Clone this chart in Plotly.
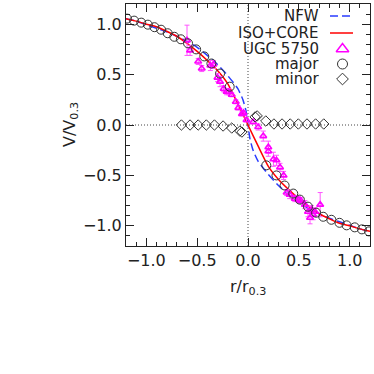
import plotly.graph_objects as go

# ---------------- data ----------------
# ISO+CORE model curve
iso_r = [-1.2, -1.1, -1.0, -0.9, -0.8, -0.7, -0.6, -0.5, -0.4, -0.3, -0.2, -0.1, 0.0,
         0.1, 0.2, 0.3, 0.4, 0.5, 0.6, 0.7, 0.8, 0.9, 1.0, 1.1, 1.2]
iso_v = [1.055, 1.03, 1.0, 0.975, 0.93, 0.88, 0.81, 0.73, 0.64, 0.54, 0.41, 0.21, 0.0,
         -0.21, -0.41, -0.54, -0.64, -0.73, -0.81, -0.88, -0.93, -0.975, -1.0, -1.03, -1.055]

# NFW model curve
nfw_r = [-1.2, -1.1, -1.0, -0.9, -0.8, -0.7, -0.6, -0.5, -0.4, -0.3, -0.2, -0.1, -0.05, -0.02, 0.0,
         0.02, 0.05, 0.1, 0.2, 0.3, 0.4, 0.5, 0.6, 0.7, 0.8, 0.9, 1.0, 1.1, 1.2]
nfw_v = [1.055, 1.03, 0.995, 0.96, 0.925, 0.88, 0.83, 0.77, 0.69, 0.60, 0.49, 0.36, 0.25, 0.14, 0.0,
         -0.14, -0.25, -0.36, -0.49, -0.60, -0.69, -0.77, -0.83, -0.88, -0.925, -0.96, -0.995, -1.03, -1.055]

# major-axis points
major_r = [-1.19, -1.12, -1.05, -0.985, -0.92, -0.855, -0.79, -0.725, -0.66, -0.59, -0.51,
           -0.43, -0.36, -0.275, -0.18,
           0.18, 0.28, 0.36, 0.445, 0.51, 0.59, 0.67, 0.74, 0.82, 0.90, 0.97, 1.05, 1.12, 1.19]
major_v = [1.055, 1.035, 1.015, 0.995, 0.97, 0.945, 0.91, 0.875, 0.85, 0.81, 0.75,
           0.68, 0.61, 0.51, 0.38,
           -0.40, -0.50, -0.60, -0.68, -0.74, -0.81, -0.87, -0.91, -0.94, -0.97, -0.995, -1.015, -1.035, -1.055]

# minor-axis points
minor_r = [-0.655, -0.57, -0.49, -0.41, -0.33, -0.245, -0.16, -0.08, -0.06,
           0.07, 0.09, 0.175, 0.255, 0.335, 0.415, 0.495, 0.58, 0.665, 0.745]
minor_v = [0.0, 0.0, 0.0, 0.0, 0.0, -0.01, -0.03, -0.06, -0.07,
           0.08, 0.09, 0.04, 0.01, 0.01, 0.01, 0.01, 0.01, 0.01, 0.01]

# UGC 5750 data
ugc_r = [-0.60, -0.57, -0.49, -0.455, -0.37, -0.34, -0.30, -0.275, -0.24, -0.21, -0.19, -0.16,
         -0.12, -0.095, -0.06, -0.045, -0.015,
         0.05, 0.10, 0.15, 0.20, 0.20, 0.25, 0.28, 0.315, 0.35, 0.38, 0.41, 0.46, 0.495, 0.52,
         0.56, 0.59, 0.61, 0.625, 0.66, 0.64, 0.71]
ugc_v = [0.84, 0.74, 0.63, 0.56, 0.59, 0.60, 0.47, 0.43, 0.36, 0.33, 0.33, 0.30,
         0.23, 0.17, 0.11, 0.12, 0.05,
         0.03, -0.02, -0.11, -0.22, -0.26, -0.34, -0.35, -0.42, -0.50, -0.67, -0.69, -0.73, -0.74, -0.75,
         -0.79, -0.86, -0.92, -0.84, -0.86, -0.89, -0.79]
ugc_err = [0.15, 0.05, 0.03, 0.03, 0.05, 0.04, 0.04, 0.05, 0.03, 0.03, 0.03, 0.02,
           0.02, 0.02, 0.02, 0.02, 0.02,
           0.02, 0.03, 0.05, 0.06, 0.05, 0.07, 0.05, 0.04, 0.04, 0.03, 0.04, 0.03, 0.03, 0.03,
           0.04, 0.05, 0.06, 0.04, 0.04, 0.05, 0.12]

tick_vals = [-1.0, -0.5, 0.0, 0.5, 1.0]
tick_text = ["\u22121.0", "\u22120.5", "0.0", "0.5", "1.0"]

legend_labels = ["NFW", "ISO+CORE", "UGC 5750", "major", "minor"]
x_title = "r/r<sub>0.3</sub>"
y_title = "V/V<sub>0.3</sub>"

# ---------------- styling ----------------
W, H = 374, 374
L, R, T, B = 126, 4, 4, 128
FONT = "DejaVu Sans"
AX = "#222222"
TXT = "#222222"
BLUE = "#2a3cff"
RED = "#ff0000"
MAG = "#ff00ff"

fig = go.Figure()

fig.add_trace(go.Scatter(x=nfw_r, y=nfw_v, mode="lines",
                         line=dict(color=BLUE, width=1.5, dash="8px,4px", shape="spline", smoothing=0.6),
                         showlegend=False, hoverinfo="skip"))
fig.add_trace(go.Scatter(x=iso_r, y=iso_v, mode="lines",
                         line=dict(color=RED, width=1.5, shape="spline", smoothing=0.6),
                         showlegend=False, hoverinfo="skip"))
fig.add_trace(go.Scatter(x=ugc_r, y=ugc_v, mode="markers",
                         marker=dict(symbol="triangle-up-open", size=6, color=MAG, line=dict(width=1.6, color=MAG)),
                         error_y=dict(type="data", array=ugc_err, visible=True, color="#ff55ff", thickness=1, width=2.5),
                         showlegend=False))
fig.add_trace(go.Scatter(x=major_r, y=major_v, mode="markers",
                         marker=dict(symbol="circle-open", size=9, color="#333333", line=dict(width=1, color="#333333")),
                         showlegend=False))
fig.add_trace(go.Scatter(x=minor_r, y=minor_v, mode="markers",
                         marker=dict(symbol="diamond-open", size=8, color="#333333", line=dict(width=1, color="#333333")),
                         showlegend=False))

# reference dotted lines
fig.add_shape(type="line", xref="paper", yref="y", x0=0, x1=1, y0=0, y1=0,
              line=dict(color="#444444", width=1, dash="1px,2px"), layer="below")
fig.add_shape(type="line", xref="x", yref="paper", x0=0, x1=0, y0=0, y1=1,
              line=dict(color="#444444", width=1, dash="1px,2px"), layer="below")

# ---------------- custom legend (IDL style: text left, symbol right) ----------------
px_x0, px_x1 = L, W - R
px_y0, px_y1 = T, H - B
leg_rows = [16, 33, 49, 64, 79]
text_right = 320
sym_x = 342.5
fig.add_trace(go.Scatter(x=[330, 353], y=[leg_rows[0]] * 2, xaxis="x2", yaxis="y2", mode="lines",
                         line=dict(color=BLUE, width=1.5, dash="8px,4px"), showlegend=False, hoverinfo="skip"))
fig.add_trace(go.Scatter(x=[330, 353], y=[leg_rows[1]] * 2, xaxis="x2", yaxis="y2", mode="lines",
                         line=dict(color=RED, width=1.5), showlegend=False, hoverinfo="skip"))
fig.add_trace(go.Scatter(x=[sym_x], y=[leg_rows[2]], xaxis="x2", yaxis="y2", mode="markers",
                         marker=dict(symbol="triangle-up-open", size=11, color=MAG, line=dict(width=1.5, color=MAG)),
                         showlegend=False, hoverinfo="skip"))
fig.add_trace(go.Scatter(x=[sym_x], y=[leg_rows[3]], xaxis="x2", yaxis="y2", mode="markers",
                         marker=dict(symbol="circle-open", size=10, color="#333333", line=dict(width=1)),
                         showlegend=False, hoverinfo="skip"))
fig.add_trace(go.Scatter(x=[sym_x], y=[leg_rows[4]], xaxis="x2", yaxis="y2", mode="markers",
                         marker=dict(symbol="diamond-open", size=9, color="#333333", line=dict(width=1)),
                         showlegend=False, hoverinfo="skip"))
for lab, yy in zip(legend_labels, leg_rows):
    fig.add_annotation(x=text_right, y=yy, xref="x2", yref="y2", text=lab, showarrow=False,
                       xanchor="right", yanchor="middle", borderpad=0,
                       font=dict(family=FONT, size=15, color=TXT))

# axis titles placed as annotations (pixel offsets from the plot box)
fig.add_annotation(x=0.5, y=0, xref="paper", yref="paper", text=x_title, showarrow=False,
                   xanchor="center", yanchor="middle", yshift=-(287 - (H - B)),
                   font=dict(family=FONT, size=16, color=TXT))
fig.add_annotation(x=0, y=0.5, xref="paper", yref="paper", text=y_title, showarrow=False, textangle=-90,
                   xanchor="center", yanchor="middle", xshift=-(L - 70),
                   font=dict(family=FONT, size=16, color=TXT))

axis_common = dict(
    range=[-1.2, 1.2], showgrid=False, zeroline=False, showline=True, linecolor=AX, linewidth=1,
    mirror="allticks", ticks="inside", ticklen=8, tickwidth=1, tickcolor=AX,
    tickvals=tick_vals, ticktext=tick_text, automargin=False,
    tickfont=dict(family=FONT, size=16, color=TXT),
    minor=dict(ticks="inside", ticklen=4, tickwidth=1, tickcolor=AX, dtick=0.1, tick0=0, showgrid=False),
)

fig.update_layout(
    width=W, height=H,
    margin=dict(l=L, r=R, t=T, b=B, pad=0, autoexpand=False),
    paper_bgcolor="white", plot_bgcolor="white",
    xaxis=dict(**axis_common),
    yaxis=dict(**axis_common),
    xaxis2=dict(range=[px_x0, px_x1], overlaying="x", visible=False, fixedrange=True, automargin=False),
    yaxis2=dict(range=[px_y1, px_y0], overlaying="y", visible=False, fixedrange=True, automargin=False),
    showlegend=False,
)

fig.write_html("out.html", config={"displayModeBar": False},
               post_script="document.body.style.margin='0';document.body.style.overflow='hidden';")
